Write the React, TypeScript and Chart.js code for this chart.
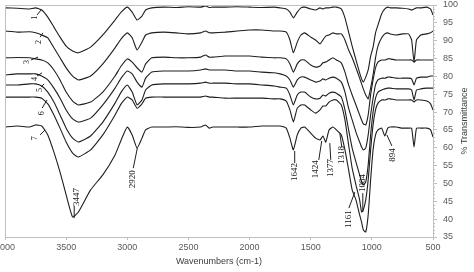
import React, { useEffect, useRef } from 'react';
import { Chart, registerables } from 'chart.js';

Chart.register(...registerables);

const wavenumbers = [4000, 3900, 3800, 3750, 3700, 3650, 3600, 3550, 3500, 3447, 3400, 3300, 3200, 3100, 3050, 3000, 2960, 2920, 2880, 2850, 2800, 2700, 2600, 2500, 2400, 2360, 2330, 2300, 2200, 2100, 2000, 1900, 1800, 1750, 1700, 1670, 1642, 1610, 1580, 1550, 1500, 1460, 1424, 1400, 1377, 1350, 1318, 1290, 1250, 1220, 1190, 1161, 1130, 1100, 1084, 1070, 1050, 1030, 1010, 990, 970, 950, 920, 894, 870, 850, 800, 750, 700, 675, 655, 635, 600, 550, 520, 500];

const sample1 = [99.2, 99.1, 98.9, 99.2, 98.6, 96.6, 93.8, 91.0, 88.5, 87.1, 86.6, 88.2, 91.6, 95.8, 98.0, 99.4, 98.0, 95.8, 96.9, 98.6, 99.2, 99.4, 99.3, 99.5, 99.4, 99.7, 99.3, 99.4, 99.4, 99.5, 99.4, 99.3, 99.4, 99.2, 98.9, 98.0, 96.4, 98.0, 99.2, 99.4, 98.9, 98.6, 99.2, 98.9, 99.2, 99.2, 99.4, 99.4, 98.9, 96.4, 92.4, 88.5, 84.6, 81.0, 79.3, 78.4, 79.8, 81.8, 85.7, 88.2, 92.2, 94.4, 97.5, 98.9, 99.4, 99.2, 99.2, 99.1, 98.9, 98.6, 98.9, 99.2, 99.2, 99.4, 98.9, 97.2];
const sample2 = [92.7, 92.4, 92.5, 92.2, 91.6, 90.8, 88.0, 85.2, 82.4, 80.1, 79.0, 80.1, 83.5, 88.0, 90.5, 92.2, 90.8, 87.4, 89.6, 91.6, 92.2, 92.4, 92.2, 91.9, 92.2, 92.7, 92.2, 92.2, 92.4, 92.7, 93.0, 93.0, 92.7, 92.7, 92.4, 90.2, 86.6, 89.6, 91.6, 92.2, 91.0, 90.2, 89.1, 90.2, 91.3, 91.6, 92.2, 91.9, 91.9, 90.2, 87.4, 85.2, 82.4, 79.5, 77.9, 76.5, 74.8, 73.7, 76.7, 80.4, 85.2, 88.5, 90.8, 91.9, 92.2, 91.9, 91.6, 91.9, 91.9, 90.2, 84.0, 90.2, 91.6, 91.9, 92.2, 92.7];
const sample3 = [85.2, 85.3, 85.2, 84.9, 84.6, 83.8, 81.8, 79.0, 75.6, 73.1, 72.0, 72.8, 75.6, 80.1, 82.9, 84.9, 84.0, 82.4, 81.2, 83.5, 85.2, 85.4, 85.2, 85.2, 85.4, 86.0, 85.4, 85.4, 85.7, 85.7, 85.7, 85.4, 85.2, 85.2, 84.9, 83.5, 81.2, 83.5, 84.6, 84.6, 83.2, 82.6, 82.9, 83.8, 84.0, 84.6, 85.2, 84.6, 83.8, 81.2, 77.6, 74.8, 72.0, 69.2, 67.8, 66.7, 66.4, 69.2, 74.8, 79.0, 82.4, 84.0, 84.6, 84.6, 84.9, 84.9, 84.6, 84.6, 84.6, 84.6, 84.0, 84.6, 84.6, 84.6, 84.6, 84.6];
const sample4 = [80.4, 80.7, 80.7, 80.7, 80.1, 79.0, 76.7, 73.9, 70.6, 68.1, 67.2, 68.3, 72.0, 76.7, 79.5, 81.5, 80.7, 78.4, 77.0, 79.5, 81.2, 81.5, 81.5, 81.5, 81.8, 82.1, 81.8, 81.8, 81.8, 81.5, 81.5, 81.2, 81.0, 80.7, 80.1, 79.0, 77.0, 79.0, 79.8, 79.8, 79.0, 78.4, 78.7, 79.3, 79.0, 79.5, 79.8, 79.5, 78.4, 75.6, 71.1, 67.8, 64.4, 61.6, 60.2, 59.4, 59.9, 63.6, 69.2, 73.9, 77.6, 79.0, 79.5, 79.5, 79.8, 79.8, 79.5, 79.5, 79.5, 79.3, 77.6, 79.5, 79.8, 79.8, 80.1, 80.1];
const sample5 = [77.6, 77.6, 77.9, 77.9, 77.3, 75.6, 72.8, 69.2, 65.5, 62.7, 61.6, 63.3, 67.2, 72.5, 75.6, 77.6, 75.6, 72.0, 73.4, 76.2, 77.6, 77.9, 77.9, 77.9, 78.1, 78.4, 78.1, 78.1, 78.1, 77.9, 77.9, 77.6, 77.3, 77.0, 76.7, 74.8, 72.0, 74.8, 75.6, 75.6, 74.2, 73.7, 73.9, 74.8, 74.5, 75.3, 75.6, 75.3, 74.2, 70.6, 65.0, 59.9, 56.0, 52.4, 50.4, 49.6, 50.4, 55.2, 63.6, 70.0, 73.9, 75.6, 76.2, 76.5, 76.7, 76.7, 76.5, 76.5, 76.5, 76.2, 73.4, 76.2, 76.5, 76.7, 76.7, 76.7];
const sample6 = [74.2, 74.2, 74.2, 74.2, 73.9, 72.3, 69.2, 65.5, 61.6, 58.5, 57.4, 59.4, 63.6, 69.2, 72.3, 74.2, 73.4, 71.1, 72.3, 73.9, 74.2, 74.2, 74.2, 74.2, 74.2, 74.5, 74.2, 74.2, 73.9, 73.9, 73.9, 73.9, 73.7, 73.7, 73.1, 70.6, 67.2, 71.1, 72.0, 72.0, 70.6, 69.7, 70.6, 71.7, 71.7, 72.8, 73.4, 73.4, 72.0, 67.8, 60.8, 54.3, 49.6, 45.4, 42.0, 42.6, 45.4, 51.0, 59.4, 66.4, 70.6, 72.5, 73.4, 73.4, 73.7, 73.7, 73.4, 73.4, 73.4, 73.4, 72.8, 73.4, 73.4, 73.1, 72.3, 70.6];
const sample7 = [65.8, 66.1, 65.8, 66.4, 66.1, 63.6, 58.8, 53.2, 46.8, 40.6, 42.0, 48.2, 52.4, 58.0, 62.2, 65.8, 63.6, 59.9, 62.7, 65.0, 65.8, 65.8, 65.9, 65.7, 65.8, 66.4, 65.5, 65.8, 65.8, 65.8, 65.8, 66.1, 66.1, 66.1, 65.5, 62.7, 59.4, 63.6, 65.5, 65.8, 64.1, 62.7, 62.2, 63.3, 61.6, 65.0, 65.8, 65.0, 63.6, 59.4, 53.8, 48.2, 45.4, 41.2, 39.2, 37.0, 36.4, 41.2, 51.0, 59.4, 63.6, 65.0, 65.5, 63.3, 65.5, 65.8, 65.8, 65.5, 65.5, 65.5, 60.2, 65.5, 65.5, 65.5, 65.0, 63.0];

const seriesValues = [sample1, sample2, sample3, sample4, sample5, sample6, sample7];
const seriesNames = ['1', '2', '3', '4', '5', '6', '7'];

const xTickValues = [4000, 3500, 3000, 2500, 2000, 1500, 1000, 500];
const yTickValues = [35, 40, 45, 50, 55, 60, 65, 70, 75, 80, 85, 90, 95, 100];

// peak annotations: text, text centre (wavenumber, %T), leader line (w1,t1)->(w2,t2)
const peakLabels = ['3447', '2920', '1642', '1424', '1377', '1318', '1161', '1084', '894'];
const peakTextW = [3418, 2959, 1631, 1459, 1336, 1246, 1188, 1074, 828];
const peakTextT = [46.2, 51.2, 53.2, 54.0, 54.3, 58.0, 40.0, 50.1, 58.0];
const peakLineW1 = [3434, 2951, 1631, 1434, 1336, 1246, 1188, 1074, 836];
const peakLineT1 = [43.7, 54.3, 55.7, 56.6, 56.6, 60.2, 43.1, 47.3, 60.5];
const peakLineW2 = [3434, 2918, 1631, 1410, 1344, 1262, 1139, 1074, 877];
const peakLineT2 = [40.3, 59.9, 59.1, 61.9, 61.3, 64.1, 47.6, 42.0, 63.6];

// series number labels
const nameTextW = [3754, 3721, 3820, 3754, 3713, 3697, 3754];
const nameTextT = [96.4, 89.6, 84.0, 79.3, 76.2, 69.7, 62.7];
const nameLineW1 = [3738, 3713, 3787, 3738, 3705, 3697, 3713];
const nameLineT1 = [97.2, 91.0, 84.6, 80.1, 77.0, 71.1, 63.6];
const nameLineW2 = [3705, 3689, 3730, 3697, 3680, 3656, 3672];
const nameLineT2 = [98.6, 92.2, 85.4, 81.0, 77.9, 73.4, 65.0];

const AXIS_GREY = '#bfbfbf';
const TEXT_GREY = '#595959';
const LINE_COLOR = '#1e1e1e';

const decorPlugin = {
  id: 'decor',
  afterDatasetsDraw(chart: any) {
    const { ctx, chartArea, scales } = chart;
    const xs = scales.x;
    const ys = scales.y;
    ctx.save();
    ctx.strokeStyle = AXIS_GREY;
    ctx.lineWidth = 1;
    ctx.beginPath();
    ctx.moveTo(chartArea.left + 0.5, chartArea.bottom);
    ctx.lineTo(chartArea.left + 0.5, chartArea.top + 0.5);
    ctx.lineTo(chartArea.right, chartArea.top + 0.5);
    ctx.stroke();
    ctx.beginPath();
    for (let v = ys.min; v <= ys.max; v += 1) {
      if (v % 5 === 0) continue;
      const py = Math.round(ys.getPixelForValue(v)) + 0.5;
      ctx.moveTo(chartArea.right, py);
      ctx.lineTo(chartArea.right + 2, py);
    }
    ctx.stroke();

    ctx.strokeStyle = LINE_COLOR;
    ctx.fillStyle = '#111';
    ctx.lineWidth = 1;
    const drawSet = (texts: string[], tw: number[], tt: number[], w1: number[], t1: number[], w2: number[], t2: number[], font: string) => {
      for (let i = 0; i < texts.length; i++) {
        ctx.beginPath();
        ctx.moveTo(xs.getPixelForValue(w1[i]), ys.getPixelForValue(t1[i]));
        ctx.lineTo(xs.getPixelForValue(w2[i]), ys.getPixelForValue(t2[i]));
        ctx.stroke();
        ctx.save();
        ctx.translate(xs.getPixelForValue(tw[i]), ys.getPixelForValue(tt[i]));
        ctx.rotate(-Math.PI / 2);
        ctx.font = font;
        ctx.textAlign = 'center';
        ctx.textBaseline = 'middle';
        ctx.fillText(texts[i], 0, 0);
        ctx.restore();
      }
    };
    drawSet(peakLabels, peakTextW, peakTextT, peakLineW1, peakLineT1, peakLineW2, peakLineT2, '9px "Liberation Serif"');
    drawSet(seriesNames, nameTextW, nameTextT, nameLineW1, nameLineT1, nameLineW2, nameLineT2, '8px "Liberation Serif"');

    ctx.save();
    ctx.translate(465, (chartArea.top + chartArea.bottom) / 2);
    ctx.rotate(-Math.PI / 2);
    ctx.font = '9px "Liberation Sans"';
    ctx.fillStyle = '#404040';
    ctx.textAlign = 'center';
    ctx.textBaseline = 'middle';
    ctx.fillText('% Transmittance', 0, 0);
    ctx.restore();
    ctx.restore();
  },
};

export default function App() {
  const canvasRef = useRef<HTMLCanvasElement | null>(null);

  useEffect(() => {
    document.body.style.margin = '0';
    const canvas = canvasRef.current;
    if (!canvas) return;
    const datasets = seriesValues.map((vals, si) => ({
      label: seriesNames[si],
      data: wavenumbers.map((w, i) => ({ x: w, y: vals[i] })),
      borderColor: LINE_COLOR,
      borderWidth: 1.1,
      pointRadius: 0,
      tension: 0.15,
      fill: false,
    }));
    const chart = new Chart(canvas, {
      type: 'line',
      data: { datasets },
      plugins: [decorPlugin],
      options: {
        animation: false,
        responsive: false,
        devicePixelRatio: 1,
        layout: { padding: { left: 5, top: 5, right: 0, bottom: 0 } },
        plugins: { legend: { display: false }, tooltip: { enabled: false } },
        scales: {
          x: {
            type: 'linear',
            reverse: true,
            min: 500,
            max: 4000,
            position: 'bottom',
            afterBuildTicks: (s: any) => {
              s.ticks = xTickValues.map((v) => ({ value: v }));
            },
            afterFit: (s: any) => {
              s.height = 35;
              s.paddingLeft = 0;
              s.paddingRight = 0;
            },
            ticks: {
              autoSkip: false,
              maxRotation: 0,
              padding: 2,
              color: TEXT_GREY,
              font: { family: 'Liberation Sans', size: 9 },
              callback: (v: any) => String(v),
            },
            grid: { drawOnChartArea: false, drawTicks: true, tickLength: 3, color: AXIS_GREY },
            border: { display: true, color: AXIS_GREY },
            title: {
              display: true,
              text: 'Wavenumbers (cm-1)',
              color: '#404040',
              font: { family: 'Liberation Sans', size: 9 },
              padding: { top: 0, bottom: 5 },
            },
          },
          y: {
            type: 'linear',
            position: 'right',
            min: 35,
            max: 100,
            afterBuildTicks: (s: any) => {
              s.ticks = yTickValues.map((v) => ({ value: v }));
            },
            afterFit: (s: any) => {
              s.width = 41;
              s.paddingTop = 0;
              s.paddingBottom = 0;
            },
            ticks: {
              padding: 6,
              color: TEXT_GREY,
              font: { family: 'Liberation Sans', size: 9 },
              callback: (v: any) => String(v),
            },
            grid: { drawOnChartArea: false, drawTicks: true, tickLength: 4, color: AXIS_GREY },
            border: { display: true, color: AXIS_GREY },
          },
        },
      },
    });
    return () => chart.destroy();
  }, []);

  return (
    <div style={{ width: 474, height: 272 }}>
      <canvas ref={canvasRef} width={474} height={272} style={{ display: 'block', width: 474, height: 272 }} />
    </div>
  );
}
